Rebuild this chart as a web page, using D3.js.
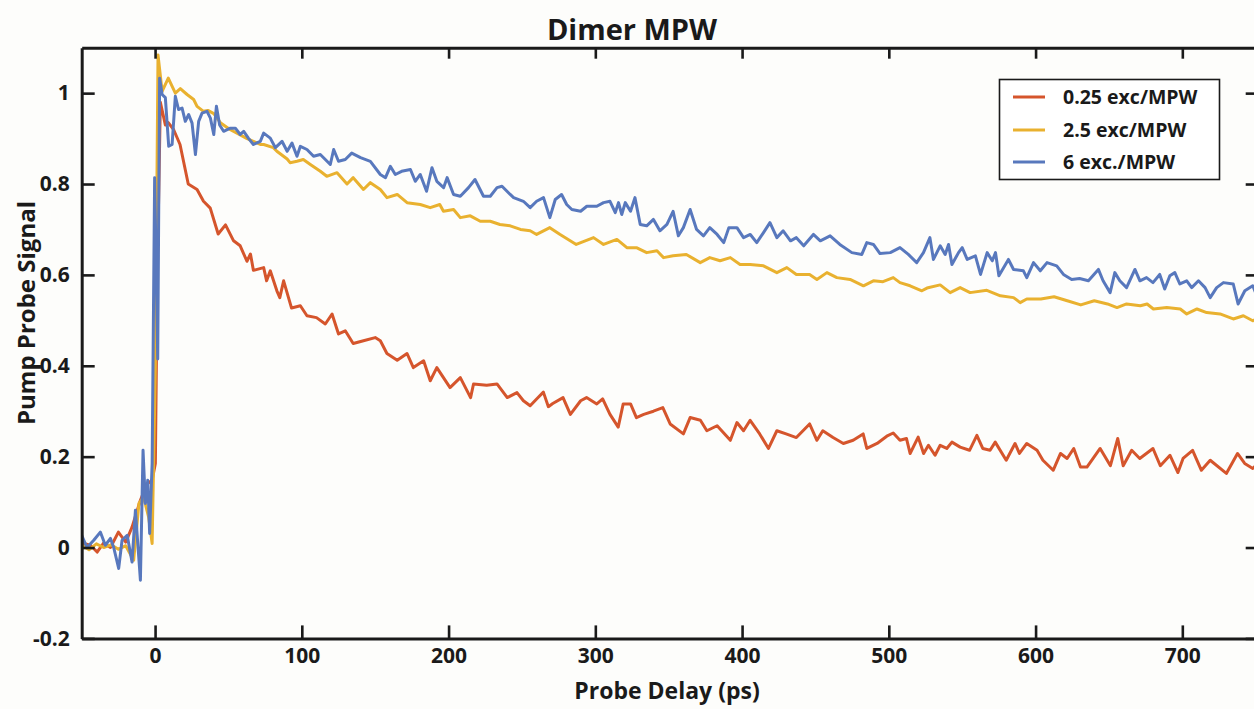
<!DOCTYPE html>
<html>
<head>
<meta charset="utf-8">
<script src="https://cdn.jsdelivr.net/npm/d3@7/dist/d3.min.js"></script>
<style>
  html, body { margin: 0; padding: 0; background: #fdfdfb; }
  svg { display: block; }
  text { font-family: "Open Sans", "Noto Sans", sans-serif; font-weight: 700; fill: #1a1a1a; }
</style>
</head>
<body>
<svg id="chart" width="1254" height="709"></svg>
<script>
// ---------------- DATA ----------------
const chartTitle = "Dimer MPW";
const xAxisLabel = "Probe Delay (ps)";
const yAxisLabel = "Pump Probe Signal";
const seriesNames = ["0.25 exc/MPW", "2.5 exc/MPW", "6 exc./MPW"];
const seriesColors = ["#d5552c", "#e9b12f", "#5878bd"];

const xTickValues = [0, 100, 200, 300, 400, 500, 600, 700];
const xTickLabels = ["0", "100", "200", "300", "400", "500", "600", "700"];
const yTickValues = [-0.2, 0, 0.2, 0.4, 0.6, 0.8, 1];
const yTickLabels = ["-0.2", "0", "0.2", "0.4", "0.6", "0.8", "1"];

// 0.25 exc/MPW
const delayLow = [-50,-44,-39.5,-35,-30.4,-25,-20,-15.7,-10,-5.5,-2,0.2,1.5,3.6,7,9,12.6,17,22.6,28.6,33,37.6,43,48,53.5,58,62.6,65,67,74,76,78.5,83,85,87.6,93,99,103.5,110,116,120.6,125,129.6,135,142,150,153.5,158,165,171.7,176,183,187.5,192,201,208,215,217,226,233,240,246.6,251,255.6,260,264.6,268,271,278,283,290,294,301,305,310,315.6,319,324,328,333,339.6,346,351,360,364.6,371.6,376,383,392,396.5,401,405.5,412,418,423.7,430,437,446,451,455,462,469,475.7,482.5,485,492,498.6,503,507.6,512,514.5,520,523.7,527,531.5,535,539.5,543,548.6,555,560,564,569,572.5,580,586,589,594,601,605,612,617,621.5,626,630.6,635,644,651,656,659.7,665.5,671,680,685,691.6,697,700.5,707,713,719,730,737.6,742.5,748,750];
const signalLow = [0.01,0.005,-0.01,0.01,0,0.034,0.012,0.045,0.104,0.14,0.148,0.185,0.6,0.98,0.93,0.935,0.92,0.887,0.8,0.788,0.762,0.747,0.69,0.71,0.675,0.664,0.63,0.646,0.61,0.616,0.587,0.609,0.565,0.55,0.587,0.527,0.532,0.51,0.506,0.492,0.514,0.47,0.477,0.449,0.455,0.462,0.455,0.427,0.412,0.427,0.396,0.411,0.367,0.396,0.352,0.374,0.33,0.36,0.357,0.36,0.33,0.341,0.323,0.312,0.327,0.342,0.31,0.317,0.33,0.293,0.323,0.33,0.316,0.327,0.293,0.265,0.316,0.316,0.286,0.293,0.3,0.308,0.272,0.25,0.286,0.28,0.257,0.268,0.236,0.275,0.257,0.28,0.25,0.218,0.257,0.25,0.242,0.272,0.236,0.257,0.242,0.229,0.236,0.25,0.218,0.229,0.245,0.252,0.236,0.24,0.207,0.243,0.207,0.225,0.203,0.225,0.218,0.232,0.221,0.214,0.247,0.218,0.214,0.232,0.192,0.229,0.207,0.229,0.214,0.192,0.17,0.207,0.196,0.218,0.177,0.177,0.218,0.18,0.24,0.18,0.214,0.196,0.218,0.18,0.203,0.165,0.196,0.214,0.17,0.192,0.163,0.207,0.185,0.174,0.18];

// 2.5 exc/MPW
const delayMid = [-50,-45,-40,-35,-30,-25,-20,-14.6,-11,-7.8,-4.4,-2,0.2,2,4.8,9,13.8,17.2,21.8,26.3,28.6,33,36,40,44.5,51,55.8,62.7,67,71.7,74,80.6,83,90,92,96.7,101,105.8,112.6,117,124,130.8,135,142,146.7,153.5,158,165,171.7,180.7,187.5,194,196.5,203.4,208,214.8,221.6,228.4,235,242,249,255.6,260,269,276,287,298.8,305.6,314.7,321.5,328,335,342,346.5,353,362,371.5,378,385,392,398.6,405.5,414.6,423.7,430.5,437,446,451,457.8,464.6,473.6,482.7,489.5,496,503,507.6,514.5,522.5,526,535,541.8,548.6,555.4,566.8,576,585,589.5,594,603.6,612.6,621.6,630.8,640,649,655.5,662,671.4,676,680.3,689.4,698.6,703,710,716.6,725.7,734.7,741.6,748,750];
const signalMid = [0.005,-0.005,0.008,0,0.006,-0.004,0.004,-0.028,0.097,0.111,0.067,0.009,0.4,1.084,1.004,1.033,1,1.01,0.997,0.986,0.971,0.96,0.962,0.955,0.935,0.92,0.912,0.9,0.894,0.887,0.887,0.88,0.872,0.855,0.847,0.85,0.854,0.843,0.828,0.817,0.825,0.8,0.814,0.788,0.803,0.788,0.77,0.777,0.759,0.755,0.748,0.755,0.74,0.744,0.726,0.73,0.718,0.718,0.711,0.708,0.7,0.697,0.689,0.704,0.689,0.667,0.682,0.667,0.678,0.66,0.66,0.649,0.653,0.638,0.642,0.645,0.627,0.638,0.631,0.638,0.623,0.623,0.62,0.605,0.616,0.601,0.601,0.59,0.605,0.594,0.59,0.576,0.587,0.585,0.594,0.583,0.576,0.565,0.571,0.578,0.561,0.572,0.561,0.566,0.554,0.55,0.539,0.547,0.547,0.552,0.543,0.534,0.543,0.536,0.528,0.536,0.532,0.536,0.525,0.528,0.525,0.514,0.525,0.517,0.514,0.503,0.51,0.499,0.502];

// 6 exc./MPW
const delayHigh = [-50,-46.4,-41.8,-37.3,-33.9,-30.4,-28.2,-24.8,-22.5,-19,-15.7,-13.4,-10,-8.2,-6.6,-5,-3.7,-2,-0.3,0.7,1.8,3.1,4.8,7,9.3,11.6,13.8,16,18.4,20.6,22.9,25.2,27.5,29.7,32,35.4,37.7,40,41.8,44,46.7,51.3,54.7,58,60.4,63.8,67,71.7,74,78.5,82,86.5,90,93.3,96.7,99,103.5,108,112.6,119.4,121.7,125,129.6,134,140,146.7,153.5,157,160.3,163.7,168,174,177.3,180.7,185,188.7,192,196.6,199,203.4,208,213.6,218,223.8,228.4,233,236.4,242,244.3,251,255.6,260,264.7,269,272.7,277,280.5,284,290,294.2,301,305.6,310,313.6,315.8,318,320.4,324,327,330.6,335,339.6,344,348.8,353,356.6,360,364.6,369,373.7,378,383,387.5,391,396.5,401,405.6,410,414.6,419,423.7,428,433,437,442,448.6,453.3,460,466.6,474.8,481.6,485,489.5,494,501,507.6,513.3,519,523.6,528,530.4,535,538.4,540.7,543,547.5,550,553.4,559,562.5,567,570.5,572.7,575,581.5,585,591.7,594,598.6,603.2,607.8,614.4,619,624.6,630,636,642.8,646,650.8,654,657.4,662,667.7,671.1,675.6,680,684.6,688,691.5,694.9,698.3,703,706.4,711,715.5,719,723.4,728,734.7,738,742.6,748,750];
const signalHigh = [0.027,0,0.016,0.034,0.005,0.02,0,-0.046,0.016,0.027,-0.032,0.082,-0.072,0.214,0.097,0.148,0.031,0.185,0.814,0.63,0.415,1.033,0.997,0.99,0.883,0.887,0.993,0.964,0.967,0.938,0.953,0.934,0.865,0.938,0.956,0.96,0.945,0.909,0.971,0.93,0.916,0.923,0.923,0.909,0.916,0.9,0.887,0.894,0.912,0.901,0.88,0.894,0.872,0.89,0.861,0.883,0.876,0.861,0.865,0.843,0.876,0.85,0.854,0.868,0.858,0.85,0.821,0.814,0.839,0.821,0.828,0.832,0.806,0.821,0.784,0.836,0.806,0.792,0.814,0.777,0.773,0.792,0.81,0.773,0.773,0.792,0.795,0.777,0.77,0.762,0.748,0.762,0.77,0.726,0.766,0.777,0.755,0.744,0.74,0.751,0.751,0.759,0.762,0.737,0.759,0.733,0.759,0.74,0.77,0.711,0.708,0.722,0.697,0.711,0.74,0.686,0.704,0.744,0.7,0.686,0.704,0.689,0.671,0.704,0.704,0.682,0.689,0.671,0.693,0.715,0.682,0.697,0.675,0.682,0.664,0.689,0.675,0.686,0.667,0.649,0.645,0.671,0.667,0.647,0.649,0.66,0.645,0.627,0.649,0.682,0.634,0.664,0.645,0.667,0.623,0.649,0.66,0.634,0.642,0.601,0.649,0.631,0.649,0.598,0.634,0.612,0.609,0.594,0.627,0.609,0.627,0.62,0.601,0.59,0.592,0.587,0.612,0.587,0.561,0.605,0.587,0.572,0.612,0.587,0.594,0.583,0.601,0.569,0.598,0.605,0.58,0.587,0.572,0.587,0.572,0.55,0.572,0.583,0.58,0.536,0.565,0.576,0.56];

// ---------------- CHART ----------------
const svg = d3.select("#chart");
const W = 1254, H = 709;
svg.append("rect").attr("width", W).attr("height", H).attr("fill", "#fdfdfb");

const x = d3.scaleLinear().domain([-50, 750]).range([81.7, 1255.7]);
const y = d3.scaleLinear().domain([-0.2, 1.1]).range([638.4, 47.7]);

const x0 = x.range()[0], x1 = x.range()[1];
const yTop = y.range()[1], yBot = y.range()[0];

svg.append("clipPath").attr("id", "plotclip")
  .append("rect").attr("x", x0).attr("y", yTop).attr("width", x1 - x0).attr("height", yBot - yTop);

const seriesData = [
  d3.zip(delayLow, signalLow),
  d3.zip(delayMid, signalMid),
  d3.zip(delayHigh, signalHigh)
];

const line = d3.line().x(d => x(d[0])).y(d => y(d[1]));

const gLines = svg.append("g").attr("clip-path", "url(#plotclip)");
seriesData.forEach((data, i) => {
  gLines.append("path")
    .datum(data)
    .attr("d", line)
    .attr("fill", "none")
    .attr("stroke", seriesColors[i])
    .attr("stroke-width", 3)
    .attr("stroke-linejoin", "round");
});

function styleAxis(g) {
  g.select(".domain").attr("stroke", "#1a1a1a").attr("stroke-width", 3);
  g.selectAll(".tick line").attr("stroke", "#1a1a1a").attr("stroke-width", 2.6);
  g.selectAll(".tick text").style("font-size", "21px").style("font-weight", 700)
    .style("font-family", '"Open Sans", "Noto Sans", sans-serif').attr("fill", "#1a1a1a");
}

// bottom
svg.append("g").attr("transform", `translate(0,${yBot})`)
  .call(d3.axisBottom(x).tickValues(xTickValues).tickFormat((d, i) => xTickLabels[i])
    .tickSize(-13).tickSizeOuter(0).tickPadding(10))
  .call(styleAxis);
// top
svg.append("g").attr("transform", `translate(0,${yTop})`)
  .call(d3.axisTop(x).tickValues(xTickValues).tickFormat("").tickSize(-11).tickSizeOuter(0))
  .call(styleAxis);
// left
svg.append("g").attr("transform", `translate(${x0},0)`)
  .call(d3.axisLeft(y).tickValues(yTickValues).tickFormat((d, i) => yTickLabels[i])
    .tickSize(-13).tickSizeOuter(0).tickPadding(12))
  .call(styleAxis);
// right
svg.append("g").attr("transform", `translate(${x1},0)`)
  .call(d3.axisRight(y).tickValues(yTickValues).tickFormat("").tickSize(-10).tickSizeOuter(0))
  .call(styleAxis);

// Title & axis labels
svg.append("text").attr("x", 632).attr("y", 40).attr("text-anchor", "middle")
  .style("font-size", "29px").text(chartTitle);
svg.append("text").attr("x", 667).attr("y", 699).attr("text-anchor", "middle")
  .style("font-size", "23px").text(xAxisLabel);
svg.append("text").attr("transform", "translate(35,313) rotate(-90)").attr("text-anchor", "middle")
  .style("font-size", "24px").text(yAxisLabel);

// Legend
const lg = svg.append("g");
lg.append("rect").attr("x", 999.5).attr("y", 79.5).attr("width", 220).attr("height", 100)
  .attr("fill", "#ffffff").attr("stroke", "#1a1a1a").attr("stroke-width", 1.6);
const rowY = [97, 130, 162];
seriesNames.forEach((name, i) => {
  lg.append("line").attr("x1", 1013).attr("x2", 1045).attr("y1", rowY[i]).attr("y2", rowY[i])
    .attr("stroke", seriesColors[i]).attr("stroke-width", 3);
  lg.append("text").attr("x", 1063).attr("y", rowY[i]).attr("dy", "0.35em")
    .style("font-size", "19.5px").text(name);
});
</script>
</body>
</html>
